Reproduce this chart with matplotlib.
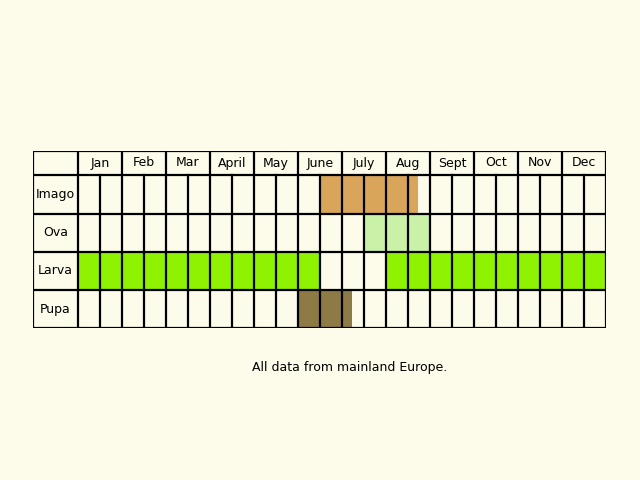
import matplotlib.pyplot as plt
from matplotlib.patches import Rectangle

months = ["Jan", "Feb", "Mar", "April", "May", "June", "July", "Aug", "Sept", "Oct", "Nov", "Dec"]
stages = ["Imago", "Ova", "Larva", "Pupa"]
# activity periods in months (start, end), 0 = start of Jan
periods = {
    "Imago": [(5.5, 7.73)],
    "Ova": [(6.5, 8.0)],
    "Larva": [(0.0, 5.5), (7.0, 12.0)],
    "Pupa": [(5.0, 6.23)],
}
colors = {"Imago": "#d9a55a", "Ova": "#c9f2a8", "Larva": "#8ef200", "Pupa": "#8e7a45"}

bg = "#fdfbea"
fig = plt.figure(figsize=(6.4, 4.8), dpi=100, facecolor=bg)
ax = fig.add_axes([33 / 640, (480 - 328) / 480, (606 - 33) / 640, (328 - 151) / 480])
ax.set_facecolor(bg)
lab_w = 45 / 44
ax.set_xlim(-lab_w, 12)
# row boundaries (pixels from top of table)
rows_y = [0, 24, 63, 101, 139, 177]
ax.set_ylim(177, 0)
ax.axis("off")

for i, s in enumerate(stages):
    y0, y1 = rows_y[i + 1], rows_y[i + 2]
    for a, b in periods[s]:
        ax.add_patch(Rectangle((a, y0), b - a, y1 - y0, color=colors[s], lw=0, zorder=1))
    ax.text(-lab_w / 2, (y0 + y1) / 2, s, ha="center", va="center", fontsize=9, zorder=3)

for j, m in enumerate(months):
    ax.text(j + 0.5, 12, m, ha="center", va="center", fontsize=9, zorder=3)

lw = 1.6
for y in rows_y:
    ax.plot([-lab_w, 12], [y, y], color="black", lw=lw, zorder=2)
ax.plot([-lab_w, -lab_w], [0, 177], color="black", lw=lw, zorder=2)
for j in range(13):
    ax.plot([j, j], [0, 177], color="black", lw=lw, zorder=2)
for j in range(12):
    ax.plot([j + 0.5, j + 0.5], [24, 177], color="black", lw=lw, zorder=2)

fig.text(350 / 640, 1 - 367 / 480, "All data from mainland Europe.", ha="center", va="center", fontsize=9)
fig.savefig("out.png", dpi=100, facecolor=bg)
